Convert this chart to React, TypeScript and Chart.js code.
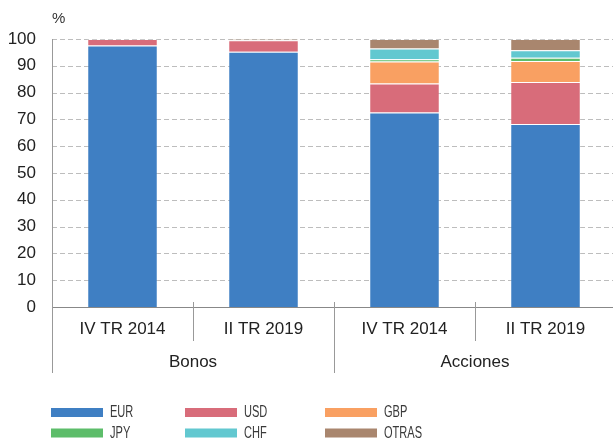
import React, { useEffect, useRef } from "react";
import { Chart, registerables } from "chart.js";

Chart.register(...registerables);

const categories = ["IV TR 2014", "II TR 2019", "IV TR 2014", "II TR 2019"];
const groups = ["Bonos", "Acciones"];
const yTicks = [0, 10, 20, 30, 40, 50, 60, 70, 80, 90, 100];

const seriesNames = ["EUR", "USD", "GBP", "JPY", "CHF", "OTRAS"];
const eur = [97.6, 95.2, 72.6, 68.3];
const usd = [2.4, 4.3, 10.8, 15.7];
const gbp = [0, 0, 8.2, 7.8];
const jpy = [0, 0, 0.8, 1.2];
const chf = [0, 0, 4.1, 2.8];
const otras = [0, 0.5, 3.5, 4.2];
const colors = ["#3f7fc3", "#d86c7a", "#f9a062", "#5dbd6a", "#62c8d0", "#a9866e"];

const FONT = "'Liberation Sans', Arial, Helvetica, sans-serif";

const gridPlugin = {
  id: "dashGrid",
  beforeDatasetsDraw(chart: any) {
    const ctx = chart.ctx;
    const ca = chart.chartArea;
    const y = chart.scales.y;
    ctx.save();
    ctx.strokeStyle = "#bdbdbd";
    ctx.lineWidth = 1;
    ctx.setLineDash([5, 3]);
    y.ticks.forEach((t: any) => {
      if (t.value === 0) return;
      const py = Math.round(y.getPixelForValue(t.value)) + 0.5;
      ctx.beginPath();
      ctx.moveTo(ca.left, py);
      ctx.lineTo(chart.width, py);
      ctx.stroke();
    });
    ctx.restore();
  },
};

const decorPlugin = {
  id: "decor",
  afterDraw(chart: any) {
    const ctx = chart.ctx;
    const ca = chart.chartArea;
    const x = chart.scales.x;
    const x2 = chart.scales.x2;
    ctx.save();
    ctx.strokeStyle = "#999";
    ctx.lineWidth = 1;
    ctx.setLineDash([]);
    const n = categories.length;
    const pix = (i: number) => x.getPixelForValue(i);
    for (let i = 1; i < n; i++) {
      const bx = Math.round((pix(i - 1) + pix(i)) / 2) + 0.5;
      const isGroup = i === n / 2;
      ctx.beginPath();
      ctx.moveTo(bx, ca.bottom - 5);
      ctx.lineTo(bx, isGroup ? x2.bottom : x.bottom);
      ctx.stroke();
    }
    const lx = Math.round(ca.left) + 0.5;
    ctx.beginPath();
    ctx.moveTo(lx, ca.top);
    ctx.lineTo(lx, x2.bottom);
    ctx.stroke();

    ctx.fillStyle = "#333";
    ctx.font = `15px ${FONT}`;
    ctx.textBaseline = "alphabetic";
    ctx.textAlign = "left";
    ctx.fillText("%", 52, 22.5);

    const colX = [51, 185, 325];
    const rowY = [412.5, 433];
    chart.data.datasets.forEach((ds: any, i: number) => {
      const cx = colX[i % 3];
      const cy = rowY[Math.floor(i / 3)];
      ctx.fillStyle = ds.backgroundColor;
      ctx.fillRect(cx, cy - 4.5, 52, 9);
      ctx.save();
      ctx.translate(cx + 59, cy);
      ctx.scale(0.69, 1);
      ctx.fillStyle = "#3a3a3a";
      ctx.font = `16px ${FONT}`;
      ctx.textBaseline = "middle";
      ctx.fillText(ds.label, 0, 0.5);
      ctx.restore();
    });
    ctx.restore();
  },
};

export default function App() {
  const ref = useRef<HTMLCanvasElement>(null);
  useEffect(() => {
    if (!ref.current) return;
    const values = [eur, usd, gbp, jpy, chf, otras];
    const chart = new Chart(ref.current, {
      type: "bar",
      data: {
        labels: categories,
        datasets: seriesNames.map((name, i) => ({
          label: name,
          data: values[i],
          backgroundColor: colors[i],
          borderColor: "rgba(255,255,255,0.22)",
          borderWidth: 1,
          barPercentage: 0.5,
          categoryPercentage: 1,
          xAxisID: "x",
          yAxisID: "y",
        })),
      },
      options: {
        responsive: false,
        animation: false,
        devicePixelRatio: 1,
        layout: { padding: { left: 0, right: 2, top: 39, bottom: 71 } },
        plugins: {
          legend: { display: false },
          tooltip: { enabled: false },
          title: { display: false },
        },
        scales: {
          x: {
            type: "category",
            position: "bottom",
            stacked: true,
            offset: true,
            weight: 0,
            grid: { display: false, drawTicks: false },
            border: { display: true, color: "#888", width: 1 },
            ticks: {
              padding: 12,
              color: "#222",
              font: { size: 17, family: FONT },
              maxRotation: 0,
              autoSkip: false,
            },
            afterFit: (s: any) => {
              s.height = 34;
            },
          },
          x2: {
            type: "category",
            position: "bottom",
            labels: groups,
            offset: true,
            weight: 1,
            grid: { display: false, drawTicks: false },
            border: { display: false },
            ticks: {
              padding: 11,
              color: "#222",
              font: { size: 17, family: FONT },
              maxRotation: 0,
              autoSkip: false,
            },
            afterFit: (s: any) => {
              s.height = 32;
            },
          },
          y: {
            stacked: true,
            min: 0,
            max: 100,
            afterBuildTicks: (s: any) => {
              s.ticks = yTicks.map((v) => ({ value: v }));
            },
            grid: { display: false, drawTicks: false },
            border: { display: false },
            ticks: {
              padding: 16,
              color: "#222",
              font: { size: 17, family: FONT },
            },
            afterFit: (s: any) => {
              s.width = 52;
            },
          },
        },
      },
      plugins: [gridPlugin, decorPlugin],
    } as any);
    return () => chart.destroy();
  }, []);
  return (
    <div
      style={{
        position: "fixed",
        left: 0,
        top: 0,
        width: 613,
        height: 444,
        overflow: "hidden",
        background: "#fff",
      }}
    >
      <canvas ref={ref} width={618} height={444} style={{ display: "block" }} />
    </div>
  );
}
